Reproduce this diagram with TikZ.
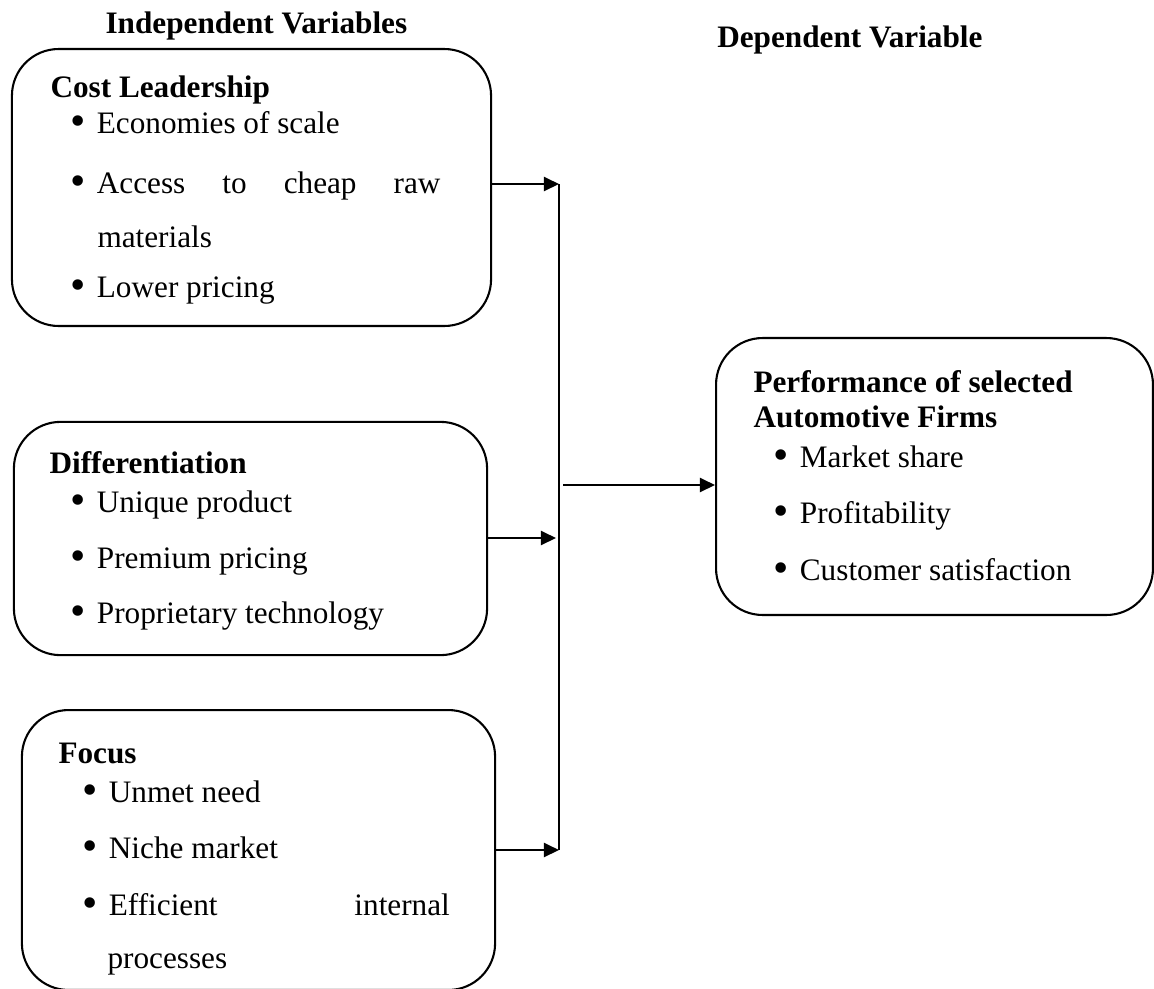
\documentclass[tikz,border=0pt]{standalone}
\usepackage{fontspec}
\usepackage{graphicx}
\setmainfont{Liberation Serif}
\usetikzlibrary{positioning, arrows.meta}

\newcommand{\itm}[1]{\makebox[8.6pt][l]{\hspace{-1.4pt}\raisebox{-0.2ex}{\scalebox{1.4}{\textbullet}}}#1}

\begin{document}
\begin{tikzpicture}[x=0.0135cm, y=-0.0135cm,
    font=\fontsize{12}{14}\selectfont,
    varbox/.style={draw, line width=0.8pt, rounded corners=0.63cm},
    head/.style={font=\fontsize{12}{14}\selectfont\bfseries, anchor=base west, inner sep=0pt},
    item/.style={anchor=base west, inner sep=0pt},
    link/.style={line width=0.8pt, -{Triangle[length=5.8pt, width=5.4pt]}}]
  \useasboundingbox (0,0) rectangle (1154,988);

  % column headings
  \node[head] (indep) at (105,33) {Independent Variables};
  \node[head, anchor=base east] (dep) at (983,47) {Dependent Variable};

  % the four boxes
  \node[varbox, minimum width=6.47cm, minimum height=3.74cm] (cost) at (251.5,187.5) {};
  \node[varbox, minimum width=6.39cm, minimum height=3.15cm] (diff) at (250.5,538.5) {};
  \node[varbox, minimum width=6.39cm, minimum height=3.78cm] (focus) at (258.5,850) {};
  \node[varbox, minimum width=5.90cm, minimum height=3.74cm] (perf) at (934.5,476.5) {};

  % cost leadership
  \node[head] (costT) at (50,97) {Cost Leadership};
  \node[item] (cost1) at (74,133) {\itm{Economies of scale}};
  \node[item] (cost2) at (74,193) {\itm{\makebox[132pt][s]{Access\hfill to\hfill cheap\hfill raw}}};
  \node[item] (cost3) at (97,247) {materials};
  \node[item] (cost4) at (74,297) {\itm{Lower pricing}};

  % differentiation
  \node[head] (diffT) at (49,473) {Differentiation};
  \foreach \y/\txt [count=\i] in {512/Unique product, 568/Premium pricing, 623/Proprietary technology}
    \node[item] (diff\i) at (74,\y) {\itm{\txt}};

  % focus
  \node[head] (focusT) at (58,763) {Focus};
  \node[item] (focus1) at (86,802) {\itm{Unmet need}};
  \node[item] (focus2) at (86,858) {\itm{Niche market}};
  \node[item] (focus3) at (86,915) {\itm{\makebox[131pt][s]{Efficient\hfill internal}}};
  \node[item] (focus4) at (107,968) {processes};

  % performance
  \node[head] (perfT) at (753,392) {Performance of selected};
  \node[head] (perfT2) at (753,427) {Automotive Firms};
  \foreach \y/\txt [count=\i] in {467/Market share, 523/Profitability, 580/Customer satisfaction}
    \node[item] (perf\i) at (777,\y) {\itm{\txt}};

  % joining line and arrows
  \coordinate (busTop) at (559,184);
  \coordinate (busBot) at (559,850);
  \coordinate (busMid) at (556,538);
  \coordinate (out) at (563,485);
  \draw[line width=0.8pt] (busTop) -- (busBot);
  \draw[link] (cost.east |- busTop) -- (busTop);
  \draw[link] (diff.east |- busMid) -- (busMid);
  \draw[link] (focus.east |- busBot) -- (busBot);
  \draw[link] (out) -- (out -| perf.west);
\end{tikzpicture}
\end{document}
